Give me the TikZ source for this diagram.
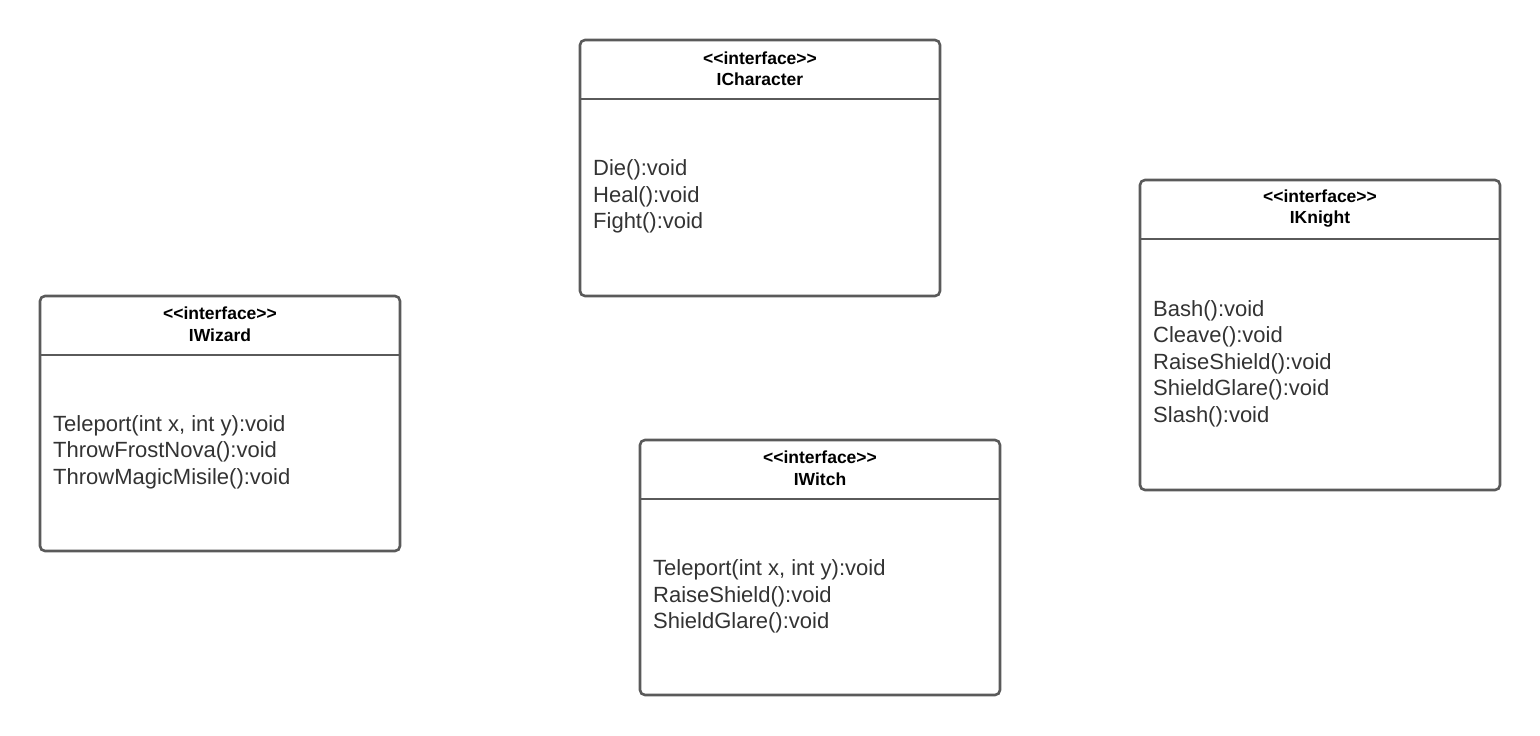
\documentclass[tikz,border=0pt]{standalone}
\usepackage{fontspec}
\setmainfont{Liberation Sans}[Ligatures=NoCommon]
\definecolor{boxline}{HTML}{5A5A5A}
\definecolor{txt}{HTML}{333333}
\newcommand{\stereo}{{<}{<}interface{>}{>}}
\tikzset{
  umlbox/.style={draw=boxline, line width=2.6pt, rounded corners=5pt, fill=white},
  hdrline/.style={draw=boxline, line width=2.6pt},
  titletext/.style={inner sep=0pt, align=center, text=black, font=\fontsize{17.5}{21.5}\selectfont\bfseries},
  methodtext/.style={inner sep=0pt, anchor=west, align=left, text=txt, font=\fontsize{22}{26.5}\selectfont},
}
\begin{document}
\begin{tikzpicture}[x=1pt,y=-1pt]
\useasboundingbox (0,0) rectangle (1540,736);
% ICharacter
\draw[umlbox] (580,40) rectangle (940,296);
\coordinate (chL) at (580,99); \coordinate (chR) at (940,99);
\draw[hdrline] (chL) -- (chR);
\node[titletext] (chT) at (760,68.5) {\stereo\\ICharacter};
\node[methodtext] (chM) at (593,196.5) {Die():void\\Heal():void\\Fight():void};
% IKnight
\draw[umlbox] (1140,180) rectangle (1500,490);
\coordinate (knL) at (1140,239); \coordinate (knR) at (1500,239);
\draw[hdrline] (knL) -- (knR);
\node[titletext] (knT) at (1320,208.5) {\stereo\\IKnight};
\node[methodtext] (knM) at (1153,363.5) {Bash():void\\Cleave():void\\RaiseShield():void\\ShieldGlare():void\\Slash():void};
% IWizard
\draw[umlbox] (40,296) rectangle (400,551);
\coordinate (wzL) at (40,355); \coordinate (wzR) at (400,355);
\draw[hdrline] (wzL) -- (wzR);
\node[titletext] (wzT) at (220,324) {\stereo\\IWizard};
\node[methodtext] (wzM) at (53,452) {Teleport(int x, int y):void\\ThrowFrostNova():void\\ThrowMagicMisile():void};
% IWitch
\draw[umlbox] (640,440) rectangle (1000,695);
\coordinate (wtL) at (640,499); \coordinate (wtR) at (1000,499);
\draw[hdrline] (wtL) -- (wtR);
\node[titletext] (wtT) at (820,468) {\stereo\\IWitch};
\node[methodtext] (wtM) at (653,596.5) {Teleport(int x, int y):void\\RaiseShield():void\\ShieldGlare():void};
\end{tikzpicture}
\end{document}
